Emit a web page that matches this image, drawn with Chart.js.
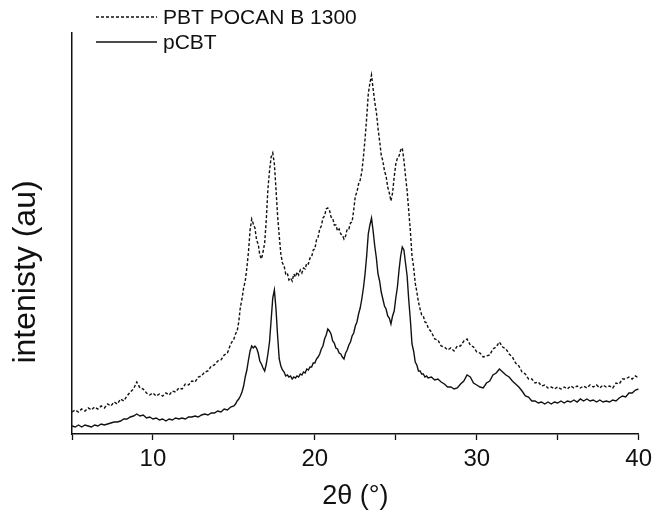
<!DOCTYPE html>
<html>
<head>
<meta charset="utf-8">
<script src="https://cdn.jsdelivr.net/npm/chart.js@4/dist/chart.umd.min.js"></script>
<style>
html,body{margin:0;padding:0;background:#fff;}
#wrap{width:657px;height:513px;position:relative;}
</style>
</head>
<body>
<div id="wrap"><canvas id="c" width="657" height="513"></canvas></div>
<script>
// 2θ positions (degrees)
const twoTheta = [
5.0,5.2,5.4,5.6,5.8,6.0,6.2,6.4,6.6,6.8,7.0,7.2,7.4,7.6,7.8,8.0,8.2,8.4,8.6,8.8,
9.0,9.2,9.4,9.6,9.8,10.0,10.2,10.4,10.6,10.8,11.0,11.2,11.4,11.6,11.8,12.0,12.2,12.4,12.6,12.8,
13.0,13.2,13.4,13.6,13.8,14.0,14.2,14.4,14.6,14.8,15.0,
15.1,15.2,15.3,15.4,15.5,15.6,15.7,15.8,15.9,16.0,16.1,16.2,16.3,16.4,16.5,16.6,16.7,16.8,16.9,17.0,
17.1,17.2,17.3,17.4,17.5,17.6,17.7,17.8,17.9,18.0,18.1,18.2,18.3,18.4,18.5,18.6,18.7,18.8,18.9,19.0,
19.1,19.2,19.3,19.4,19.5,19.6,19.7,19.8,19.9,20.0,20.1,20.2,20.3,20.4,20.5,20.6,20.7,20.8,20.9,21.0,
21.1,21.2,21.3,21.4,21.5,21.6,21.7,21.8,21.9,22.0,22.1,22.2,22.3,22.4,22.5,22.6,22.7,22.8,22.9,23.0,
23.1,23.2,23.3,23.4,23.5,23.6,23.7,23.8,23.9,24.0,24.1,24.2,24.3,24.4,24.5,24.6,24.7,24.8,24.9,25.0,
25.1,25.2,25.3,25.4,25.5,25.6,25.7,25.8,25.9,26.0,26.1,26.2,26.3,26.4,26.5,26.6,26.7,26.8,26.9,27.0,
27.2,27.4,27.6,27.8,28.0,28.2,28.4,28.6,28.8,29.0,29.2,29.4,29.6,29.8,30.0,30.2,30.4,30.6,30.8,31.0,
31.2,31.4,31.6,31.8,32.0,32.2,32.4,32.6,32.8,33.0,33.2,33.4,33.6,33.8,34.0,34.2,34.4,34.6,34.8,35.0,
35.2,35.4,35.6,35.8,36.0,36.2,36.4,36.6,36.8,37.0,37.2,37.4,37.6,37.8,38.0,38.2,38.4,38.6,38.8,39.0,
39.2,39.4,39.6,39.8,40.0
];

// PBT POCAN B 1300 intensity (a.u.)
const pbtPocan = [
22,24,22,25,23,26,24,27,25,28,26,30,28,32,30,35,33,38,42,45,
52,46,45,41,39,41,38,40,38,41,39,43,42,46,45,50,49,53,52,57,
58,62,63,68,69,73,74,79,81,90,95,
100,103,112,127,135,146,153,166,182,204,215,210,206,194,190,179,175,182,191,214,
245,263,277,281,270,245,218,198,180,171,168,160,161,154,156,153,160,157,162,159,
164,161,166,165,171,170,176,177,184,185,194,197,205,208,216,218,225,226,224,217,
216,209,209,203,205,200,199,195,198,205,205,211,212,224,238,242,250,254,262,277,
295,316,340,351,359,345,332,322,306,293,279,273,263,258,247,241,233,241,257,270,
276,278,284,286,274,258,243,223,203,178,167,151,142,132,125,119,118,112,111,106,
102,95,94,88,87,84,86,83,88,88,93,95,89,87,82,81,77,78,79,85,
87,92,87,85,80,77,71,68,62,60,55,55,51,52,48,49,46,47,45,47,
45,47,45,48,46,48,46,48,46,49,47,49,46,49,47,48,46,51,50,55,
55,57,55,58,56
];

// pCBT intensity (a.u.)
const pCBT = [
8,7,9,7,9,8,7,9,8,10,9,10,11,12,12,13,15,15,17,18,
20,18,19,16,17,15,16,14,15,13,15,14,16,15,16,15,17,17,18,17,
19,20,19,21,21,23,22,25,24,27,28,
30,33,35,38,42,48,57,64,74,83,88,86,88,86,81,73,70,66,63,70,
80,92,114,136,144,125,98,75,68,64,62,58,59,57,58,55,57,56,58,57,
60,59,62,61,65,64,67,67,71,71,75,77,80,85,88,95,99,105,103,100,
93,91,86,85,81,80,77,75,81,84,89,92,98,101,108,112,120,126,135,146,
160,178,200,209,216,203,188,176,160,153,142,135,128,125,118,116,110,118,123,136,
147,164,178,187,184,171,158,134,114,90,83,72,69,63,63,60,60,57,58,56,
57,54,55,52,50,47,47,45,46,50,53,59,57,51,49,47,46,51,53,59,
61,65,62,59,57,53,50,47,43,38,37,33,33,31,32,30,32,30,32,31,
33,31,33,32,34,32,35,33,35,33,34,32,34,32,33,32,34,33,36,38,
37,41,41,44,45
];

const xTicks = [5,10,15,20,25,30,35,40];
const xTickLabels = ['', '10', '', '20', '', '30', '', '40'];
const seriesNames = ['PBT POCAN B 1300', 'pCBT'];
const xTitle = '2θ (°)';
const yTitle = 'intenisty (au)';

const FONT = "'Liberation Sans', Arial, Helvetica, sans-serif";

const legendPlugin = {
  id: 'stackedLegend',
  afterDraw(chart) {
    const ctx = chart.ctx;
    const rows = [17, 42];
    ctx.save();
    chart.data.datasets.forEach((ds, i) => {
      const y = rows[i];
      ctx.strokeStyle = ds.borderColor;
      ctx.lineWidth = 1.3;
      ctx.setLineDash(ds.borderDash || []);
      ctx.beginPath();
      ctx.moveTo(96, y);
      ctx.lineTo(157, y);
      ctx.stroke();
      ctx.setLineDash([]);
      ctx.fillStyle = '#111';
      ctx.font = '21px ' + FONT;
      ctx.textBaseline = 'middle';
      ctx.textAlign = 'left';
      ctx.fillText(ds.label, 163, y + 1);
    });
    ctx.restore();
  }
};

const yTitlePlugin = {
  id: 'yTitle',
  afterDraw(chart) {
    const ctx = chart.ctx;
    ctx.save();
    ctx.translate(26, 272);
    ctx.rotate(-Math.PI / 2);
    ctx.fillStyle = '#111';
    ctx.font = '32px ' + FONT;
    ctx.textAlign = 'center';
    ctx.textBaseline = 'middle';
    ctx.fillText(yTitle, 0, 0);
    ctx.restore();
  }
};

new Chart(document.getElementById('c'), {
  type: 'line',
  data: {
    datasets: [
      {
        label: seriesNames[0],
        data: twoTheta.map((x, i) => ({x: x, y: pbtPocan[i]})),
        borderColor: '#111',
        borderWidth: 1.4,
        borderDash: [3, 2],
        pointRadius: 0,
        tension: 0,
        fill: false
      },
      {
        label: seriesNames[1],
        data: twoTheta.map((x, i) => ({x: x, y: pCBT[i]})),
        borderColor: '#111',
        borderWidth: 1.4,
        pointRadius: 0,
        tension: 0,
        fill: false
      }
    ]
  },
  options: {
    responsive: false,
    animation: false,
    devicePixelRatio: 1,
    layout: { padding: { top: 33, right: 17, left: 0, bottom: 0 } },
    plugins: {
      legend: { display: false },
      tooltip: { enabled: false }
    },
    scales: {
      x: {
        type: 'linear',
        min: 5,
        max: 40,
        afterBuildTicks: (scale) => { scale.ticks = xTicks.map(v => ({value: v})); },
        afterFit: (scale) => { scale.height = 79; },
        ticks: {
          autoSkip: false,
          maxRotation: 0,
          padding: 5,
          color: '#111',
          font: { family: FONT, size: 24 },
          callback: (v) => xTickLabels[xTicks.indexOf(v)]
        },
        grid: {
          drawOnChartArea: false,
          drawTicks: true,
          tickLength: 6,
          tickColor: '#111',
          tickWidth: 1.3
        },
        border: { display: true, color: '#111', width: 1.5 },
        title: {
          display: true,
          text: xTitle,
          color: '#111',
          font: { family: FONT, size: 27 },
          padding: { top: 0, bottom: 0 }
        }
      },
      y: {
        min: 0,
        max: 401,
        afterFit: (scale) => { scale.width = 72; },
        ticks: { display: false },
        grid: { drawOnChartArea: false, drawTicks: false },
        border: { display: true, color: '#111', width: 1.5 }
      }
    }
  },
  plugins: [legendPlugin, yTitlePlugin]
});
</script>
</body>
</html>
